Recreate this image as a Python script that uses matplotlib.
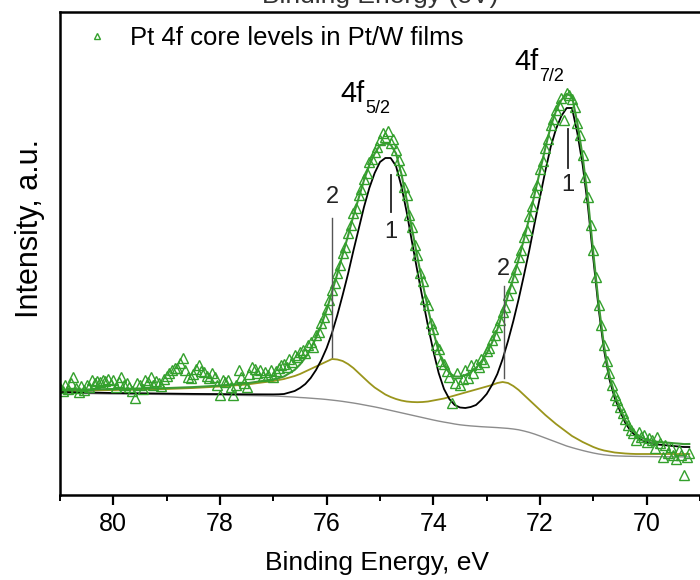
import numpy as np
import matplotlib
matplotlib.use("Agg")
import matplotlib.pyplot as plt
from matplotlib.transforms import offset_copy

plt.rcParams['font.family'] = ['Liberation Sans', 'DejaVu Sans']

# measured spectrum, 0.05 eV step from 81.00 down to 69.20 eV
energy = np.round(np.arange(81.0, 69.175, -0.05), 2)
counts = [
    107, 104, 110, 106, 112, 118, 107, 103, 109, 105,
    110, 108, 115, 112, 114, 113, 115, 114, 116, 111,
    115, 108, 113, 118, 110, 112, 108, 104, 97, 112,
    110, 106, 115, 113, 118, 110, 114, 112, 109, 116,
    119, 122, 125, 127, 127, 132, 137, 125, 118, 117,
    121, 126, 130, 124, 123, 119, 117, 122, 118, 110,
    100, 115, 113, 115, 108, 100, 110, 125, 118, 112,
    108, 121, 128, 126, 122, 125, 119, 123, 120, 125,
    118, 124, 127, 130, 131, 128, 136, 133, 140, 138,
    143, 145, 142, 150, 153, 148, 160, 163, 172, 178,
    186, 195, 205, 212, 222, 230, 242, 248, 262, 270,
    282, 287, 300, 306, 316, 322, 333, 336, 343, 348,
    355, 362, 358, 364, 352, 356, 345, 335, 325, 308,
    300, 280, 268, 250, 240, 222, 214, 196, 190, 172,
    166, 150, 146, 134, 131, 124, 118, 92, 112, 122,
    110, 116, 125, 117, 130, 122, 131, 128, 136, 133,
    144, 147, 155, 160, 168, 175, 183, 188, 200, 207,
    218, 226, 238, 245, 258, 265, 279, 289, 303, 310,
    326, 334, 347, 356, 370, 376, 385, 390, 397, 375,
    402, 400, 396, 388, 372, 360, 340, 318, 298, 270,
    245, 218, 190, 170, 150, 134, 122, 110, 100, 95,
    88, 82, 76, 70, 65, 62, 55, 63, 58, 60,
    53, 57, 55, 47, 58, 52, 38, 50, 42, 48,
    40, 36, 45, 40, 20, 38, 42,
]

# fit curves: coarse on the flat side, 0.1 eV from 77.0 eV on
fit_energy = np.concatenate([[81.0, 80.5, 80.0, 79.5, 79.0, 78.5, 78.0, 77.5],
                             np.round(np.arange(77.0, 69.15, -0.1), 1)])
background = [
    102, 101.5, 101, 100.8, 100.5, 100.2, 100, 99.5,
    99.0, 98.8, 98.5, 98.2, 97.9, 97.5, 97.2, 96.8, 96.4, 96.0,
    95.5, 94.9, 94.3, 93.6, 92.8, 92.0, 91.1, 90.1, 89.1, 88.1,
    87.0, 85.8, 84.6, 83.4, 82.2, 81.0, 79.8, 78.6, 77.4, 76.2,
    75.0, 73.9, 72.9, 72.0, 71.0, 70.2, 69.6, 69.1, 68.7, 68.3,
    68.0, 67.7, 67.4, 67.0, 66.6, 66.0, 65.2, 64.0, 62.6, 60.9,
    59.0, 57.0, 55.0, 53.0, 51.0, 49.0, 47.4, 45.9, 44.5, 43.2,
    42.0, 41.0, 40.2, 39.6, 39.2, 39.0, 38.8, 38.7, 38.6, 38.5,
    38.5, 38.4, 38.3, 38.3, 38.2, 38.2, 38.1, 38.1, 38.0,
]
comp1 = [
    103, 102.5, 102, 101.7, 101.4, 101.1, 100.9, 100.7,
    100.6, 100.7, 101, 102.5, 104, 107, 111, 117, 125, 135,
    147, 162, 180, 200, 221, 244, 266, 288, 307, 322,
    333, 337, 337, 329, 309, 283, 253, 224, 196, 169,
    144, 122, 106, 96, 90, 87.5, 87, 88, 90, 95,
    101, 110, 121, 136, 154, 174, 196, 220, 245, 272,
    298, 324, 348, 366, 379, 387, 387, 362, 330, 288,
    236, 186, 145, 116, 97, 84, 72, 64, 59, 55,
    53, 51.5, 50.5, 50, 49.5, 49, 48.5, 48, 48,
]
comp2 = [
    104, 104.5, 105, 105.5, 106, 107, 108.5, 110.5,
    114, 115, 116, 117.5, 119, 121, 123.5, 126, 128.5, 131,
    133.5, 136, 135.5, 134, 131, 127, 122, 117, 112, 107.5,
    104, 100.5, 98, 96, 94.5, 93.5, 93, 92.8, 93, 93.5,
    94.5, 95.5, 96.5, 98, 99.5, 101, 102.5, 104, 105.5, 107,
    108.5, 110, 112, 113, 112, 109, 105, 100, 95, 90,
    85, 80, 75.5, 71, 67, 63, 59, 56, 53, 50.5,
    48, 46, 44.5, 43.5, 42.5, 42, 41.5, 41.2, 41, 41,
    41, 41, 41, 41, 41, 41, 41, 41, 41,
]

# component labels: (energy, label y, line bottom, line top)
marks_1 = [(74.79, 263, 283, 320), (71.48, 310, 327, 366)]
marks_2 = [(75.90, 298, 138, 277), (72.68, 226, 117, 209)]
# peak names: (energy, baseline, subscript)
peak_names = [(75.74, 393, '5/2'), (72.48, 425, '7/2')]

bg = np.array(background)
envelope = np.array(comp1) + np.array(comp2) - bg

fig = plt.figure(figsize=(7.0, 5.8), dpi=100)
ax = fig.add_axes([60 / 700, 85 / 580, 640 / 700, 483 / 580])

ax.plot(fit_energy, background, color='#8c8c8c', lw=1.0)
ax.plot(fit_energy, comp2, color='#9a951c', lw=1.3)
ax.plot(fit_energy, comp1, color='black', lw=1.3)
ax.plot(fit_energy, envelope, color='#3d9a35', lw=1.5)
ax.plot(energy, counts, ls='none', marker='^', ms=7, mfc='none',
        mec='#33a02c', mew=1.0, label='Pt 4f core levels in Pt/W films')

for e, ty, y0, y1 in marks_1:
    ax.plot([e, e], [y0, y1], color='#222222', lw=1.3)
    ax.text(e, ty, '1', ha='center', va='center', fontsize=17, color='#222222')
for e, ty, y0, y1 in marks_2:
    ax.plot([e, e], [y0, y1], color='#555555', lw=1.0)
    ax.text(e, ty, '2', ha='center', va='center', fontsize=17, color='#222222')

sub_tr = offset_copy(ax.transData, fig=fig, x=17.5, y=-8, units='points')
for e, base, sub in peak_names:
    ax.text(e, base, '4f', fontsize=21, ha='left', va='baseline')
    ax.text(e, base, sub, fontsize=13, ha='left', va='baseline', transform=sub_tr)

ax.set_xlim(81.0, 69.2)
ax.set_ylim(0, 483)
ax.set_xticks([80, 78, 76, 74, 72, 70])
ax.set_xticks([81, 79, 77, 75, 73, 71, 69], minor=True)
ax.set_yticks([])
ax.tick_params(axis='x', which='major', direction='out', length=7, width=1.6,
               labelsize=18, pad=5, top=False)
ax.tick_params(axis='x', which='minor', direction='out', length=4, width=1.4, top=False)
for side in ['left', 'bottom', 'top']:
    ax.spines[side].set_linewidth(1.8)
ax.spines['right'].set_visible(False)

ax.legend(loc='upper left', bbox_to_anchor=(82 / 700, 1 - 26 / 580),
          bbox_transform=fig.transFigure, frameon=False, fontsize=18.5,
          markerscale=0.6, numpoints=1, handlelength=1.2, handletextpad=0.65,
          borderpad=0, borderaxespad=0)

fig.text(377 / 700, 1 - 563 / 580, 'Binding Energy, eV', fontsize=19,
         ha='center', va='center')
fig.text(30 / 700, 1 - 228 / 580, 'Intensity, a.u.', fontsize=22,
         ha='center', va='center', rotation=90)
fig.text(380 / 700, 1 - 3 / 580, 'Binding Energy (eV)', fontsize=19,
         ha='center', va='baseline', color='#333333')

fig.savefig('out.png', dpi=100)
